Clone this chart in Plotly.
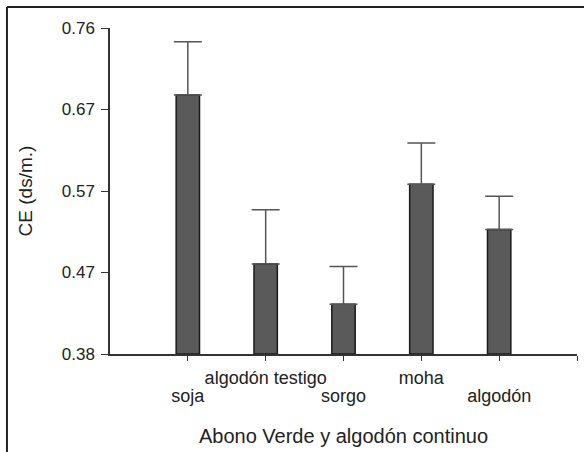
import plotly.graph_objects as go

# CE (ds/m.) por tratamiento, con error estándar hacia arriba
categorias = ["soja", "algodón testigo", "sorgo", "moha", "algodón"]
ce_medio = [0.682, 0.485, 0.438, 0.578, 0.525]
ce_error = [0.062, 0.063, 0.044, 0.048, 0.039]

y_ticks = [0.38, 0.475, 0.57, 0.665, 0.76]
y_tick_text = ["0.38", "0.47", "0.57", "0.67", "0.76"]

posiciones = list(range(1, len(categorias) + 1))
# Etiquetas alternadas en dos alturas: fila superior (pares) e inferior (impares)
pos_sup = [p for i, p in enumerate(posiciones) if i % 2 == 1]
txt_sup = [c for i, c in enumerate(categorias) if i % 2 == 1]
pos_inf = [p for i, p in enumerate(posiciones) if i % 2 == 0]
txt_inf = [c for i, c in enumerate(categorias) if i % 2 == 0]

FUENTE = "Liberation Sans, Arial, sans-serif"
TEXTO = "#222222"
EJE = "#333333"

fig = go.Figure()
fig.add_trace(go.Bar(
    x=posiciones,
    y=[v - y_ticks[0] for v in ce_medio],
    base=y_ticks[0],
    width=0.3,
    marker=dict(color="#5a5a5a", line=dict(color="#1a1a1a", width=1.5)),
    error_y=dict(type="data", array=ce_error, arrayminus=[0] * len(ce_error),
                 symmetric=False, color="#555555", thickness=1.5, width=14),
    hoverinfo="skip",
))
# traza invisible para activar el segundo eje x (fila inferior de etiquetas)
fig.add_trace(go.Scatter(x=pos_inf, y=[y_ticks[0]] * len(pos_inf), xaxis="x2",
                         mode="markers", marker=dict(opacity=0), hoverinfo="skip"))

fig.update_layout(
    width=584, height=452,
    margin=dict(l=110, r=7, t=28, b=98),
    paper_bgcolor="white", plot_bgcolor="white",
    showlegend=False,
    font=dict(family=FUENTE, color=TEXTO, size=17),
    xaxis=dict(
        range=[0, 6], tickmode="array",
        tickvals=posiciones + [6], ticktext=["", txt_sup[0], "", txt_sup[1], "", ""],
        showline=True, linecolor=EJE, linewidth=1.5,
        ticks="outside", ticklen=5, tickcolor=EJE,
        showgrid=False, zeroline=False,
        ticklabelstandoff=2,
        tickfont=dict(size=18, color=TEXTO, family=FUENTE),
        title=dict(text="Abono Verde y algodón continuo", standoff=42,
                   font=dict(size=20, color=TEXTO, family=FUENTE)),
    ),
    xaxis2=dict(
        range=[0, 6], overlaying="x", side="bottom", anchor="y",
        tickmode="array", tickvals=pos_inf, ticktext=txt_inf,
        showline=False, ticks="", showgrid=False, zeroline=False,
        ticklabelstandoff=29,
        tickfont=dict(size=18, color=TEXTO, family=FUENTE),
    ),
    yaxis=dict(
        range=[0.38, 0.76], tickmode="array",
        tickvals=y_ticks, ticktext=y_tick_text,
        showline=True, linecolor=EJE, linewidth=1.5,
        ticks="outside", ticklen=7, tickcolor=EJE,
        ticklabelstandoff=3,
        showgrid=False, zeroline=False,
        tickfont=dict(size=17, color=TEXTO, family=FUENTE),
        title=dict(text="CE (ds/m.)", standoff=24,
                   font=dict(size=19, color=TEXTO, family=FUENTE)),
    ),
    shapes=[
        # marco exterior (izquierda y arriba)
        dict(type="line", xref="paper", yref="paper",
             x0=-0.2206, x1=1.02, y0=1.0644, y1=1.0644,
             line=dict(color="#222222", width=2)),
        dict(type="line", xref="paper", yref="paper",
             x0=-0.2206, x1=-0.2206, y0=1.0644, y1=-0.31,
             line=dict(color="#222222", width=2)),
    ],
)

fig.write_html("out.html")
